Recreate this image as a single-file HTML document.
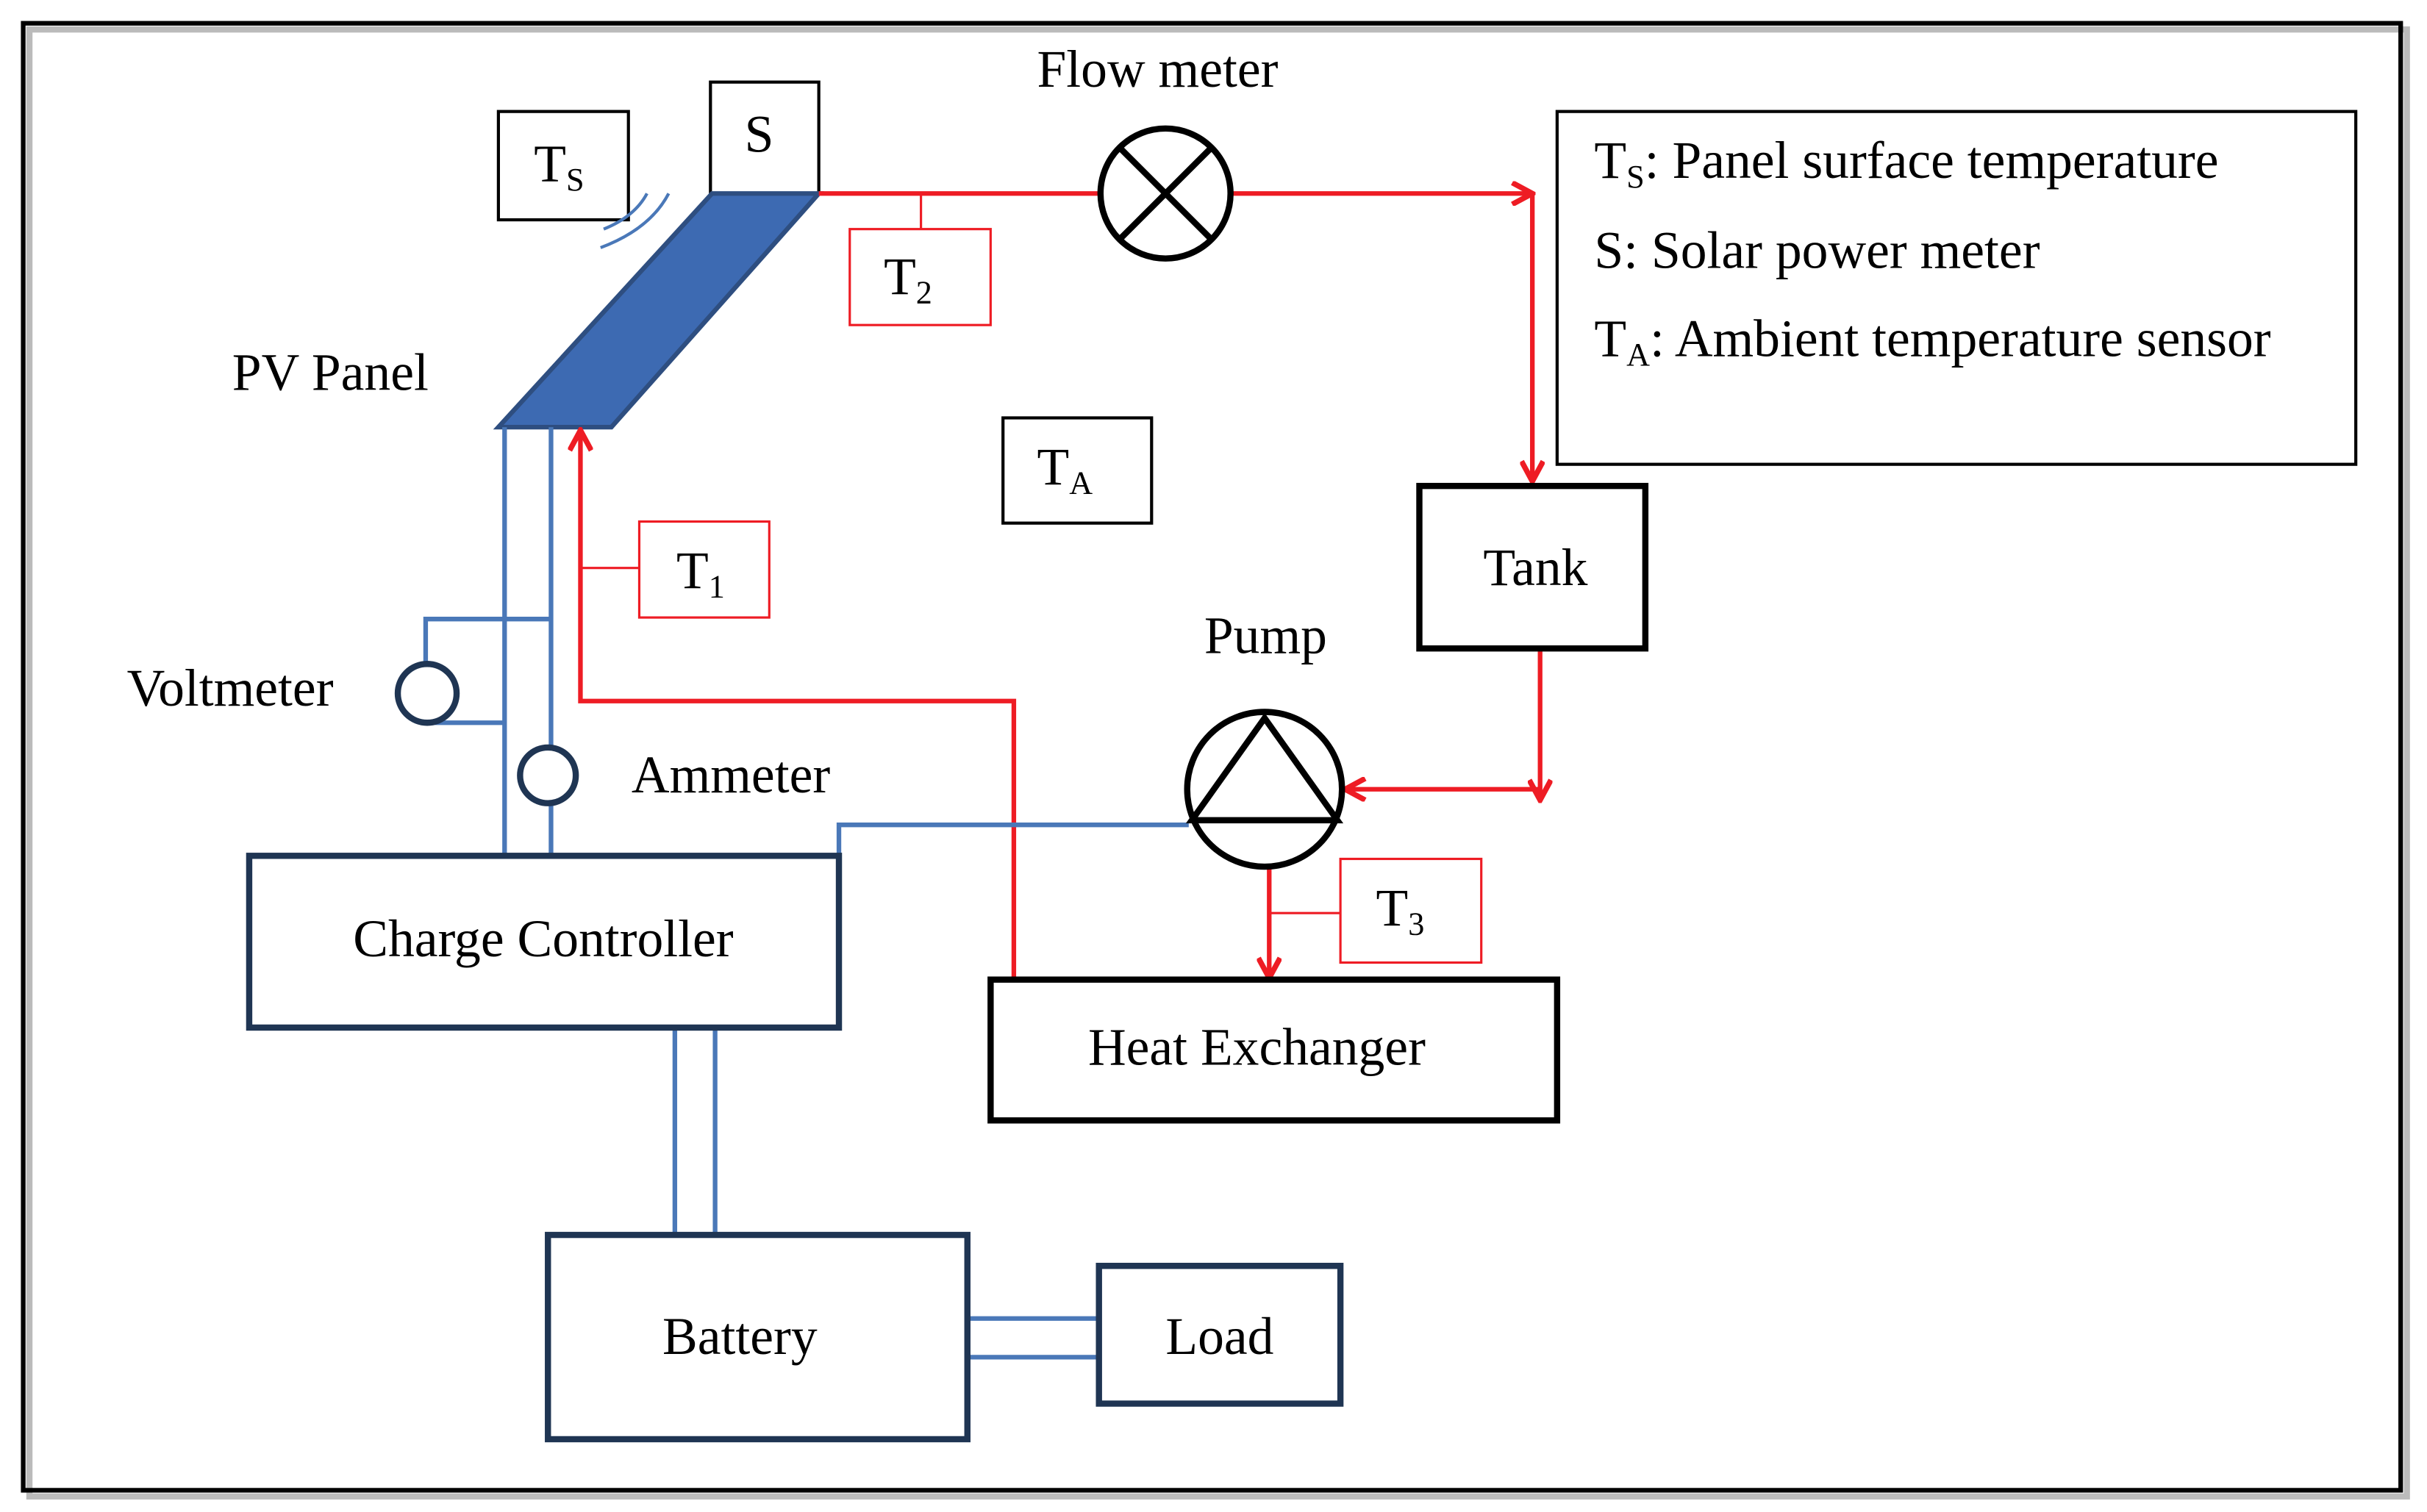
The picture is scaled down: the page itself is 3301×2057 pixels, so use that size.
<!DOCTYPE html>
<html><head><meta charset="utf-8"><style>
html,body{margin:0;padding:0;background:#fff;}
svg{display:block;}
text{font-family:"Liberation Serif",serif;}
</style></head><body>
<svg width="3301" height="2057" viewBox="0 0 1568 977" xmlns="http://www.w3.org/2000/svg">
<defs>
<marker id="ar" markerWidth="16" markerHeight="16" refX="14" refY="8" orient="auto" markerUnits="userSpaceOnUse">
<path d="M1,1 L14,8 L1,15" fill="none" stroke="#ee1c24" stroke-width="3.5"/>
</marker>
</defs>
<rect x="0" y="0" width="1568" height="977" fill="#fff"/>
<rect x="19" y="19" width="1536" height="948" fill="none" stroke="#bbb" stroke-width="4"/>
<rect x="15" y="15" width="1536" height="948" fill="none" stroke="#000" stroke-width="3"/>

<rect x="322" y="72" width="84" height="70" fill="#fff" stroke="#000" stroke-width="2"/>
<text x="345" y="117" font-size="34">T<tspan font-size="21" dy="6">S</tspan></text>
<rect x="459" y="53" width="70" height="72" fill="#fff" stroke="#000" stroke-width="2"/>
<text x="481" y="98" font-size="34">S</text>
<path d="M390,148 Q410,140 418,125 M388,160 Q420,148 432,125" fill="none" stroke="#4a78b8" stroke-width="2"/>
<polygon points="460,125 529,125 395,276 322,276" fill="#3d6ab2" stroke="#2e4e80" stroke-width="3"/>
<text x="150" y="252" font-size="34">PV Panel</text>

<g stroke="#ee1c24" stroke-width="3" fill="none">
<line x1="529" y1="125" x2="990" y2="125" marker-end="url(#ar)"/>
<line x1="595" y1="125" x2="595" y2="148" stroke-width="1.5"/>
<line x1="990" y1="125" x2="990" y2="311" marker-end="url(#ar)"/>
<line x1="995" y1="419" x2="995" y2="517" marker-end="url(#ar)"/>
<line x1="995" y1="510" x2="869" y2="510" marker-end="url(#ar)"/>
<line x1="820" y1="556" x2="820" y2="632" marker-end="url(#ar)"/>
<line x1="820" y1="590" x2="866" y2="590" stroke-width="1.5"/>
<polyline points="655,633 655,453 375,453 375,278" marker-end="url(#ar)"/>
<line x1="375" y1="367" x2="413" y2="367" stroke-width="1.5"/>
</g>
<rect x="549" y="148" width="91" height="62" fill="#fff" stroke="#ee1c24" stroke-width="1.5"/>
<text x="571" y="190" font-size="34">T<tspan font-size="21" dy="6">2</tspan></text>
<rect x="413" y="337" width="84" height="62" fill="#fff" stroke="#ee1c24" stroke-width="1.5"/>
<text x="437" y="380" font-size="34">T<tspan font-size="21" dy="6">1</tspan></text>
<rect x="866" y="555" width="91" height="67" fill="#fff" stroke="#ee1c24" stroke-width="1.5"/>
<text x="889" y="598" font-size="34">T<tspan font-size="21" dy="6">3</tspan></text>

<circle cx="753" cy="125" r="42" fill="#fff" stroke="#000" stroke-width="4"/>
<line x1="723" y1="95" x2="783" y2="155" stroke="#000" stroke-width="4"/>
<line x1="783" y1="95" x2="723" y2="155" stroke="#000" stroke-width="4"/>
<text x="670" y="56" font-size="34">Flow meter</text>

<rect x="1006" y="72" width="516" height="228" fill="#fff" stroke="#000" stroke-width="2"/>
<text x="1030" y="115" font-size="34">T<tspan font-size="21" dy="6">S</tspan><tspan dy="-6">: Panel surface temperature</tspan></text>
<text x="1030" y="173" font-size="34">S: Solar power meter</text>
<text x="1030" y="230" font-size="34">T<tspan font-size="21" dy="6">A</tspan><tspan dy="-6">: Ambient temperature sensor</tspan></text>

<rect x="648" y="270" width="96" height="68" fill="#fff" stroke="#000" stroke-width="2"/>
<text x="670" y="313" font-size="34">T<tspan font-size="21" dy="6">A</tspan></text>

<rect x="917" y="314" width="146" height="105" fill="#fff" stroke="#000" stroke-width="4"/>
<text x="992" y="378" font-size="34" text-anchor="middle">Tank</text>

<g stroke="#4a78b8" stroke-width="3" fill="none">
<line x1="326" y1="276" x2="326" y2="553"/>
<line x1="356" y1="276" x2="356" y2="553"/>
<polyline points="356,400 275,400 275,430"/>
<polyline points="276,467 326,467"/>
<polyline points="768,533 542,533 542,553"/>
<line x1="436" y1="664" x2="436" y2="798"/>
<line x1="462" y1="664" x2="462" y2="798"/>
<line x1="625" y1="852" x2="710" y2="852"/>
<line x1="625" y1="877" x2="710" y2="877"/>
</g>
<circle cx="276" cy="448" r="19" fill="#fff" stroke="#1f3553" stroke-width="4"/>
<circle cx="354" cy="501" r="18" fill="#fff" stroke="#1f3553" stroke-width="4"/>
<text x="82" y="456" font-size="34">Voltmeter</text>
<text x="408" y="512" font-size="34">Ammeter</text>

<circle cx="817" cy="510" r="50" fill="#fff" stroke="#000" stroke-width="4"/>
<polygon points="817,464 770,530 864,530" fill="none" stroke="#000" stroke-width="4"/>
<text x="778" y="422" font-size="34">Pump</text>

<rect x="161" y="553" width="381" height="111" fill="#fff" stroke="#1f3553" stroke-width="4"/>
<text x="351" y="618" font-size="34" text-anchor="middle">Charge Controller</text>
<rect x="640" y="633" width="366" height="91" fill="#fff" stroke="#000" stroke-width="4"/>
<text x="812" y="688" font-size="34" text-anchor="middle">Heat Exchanger</text>
<rect x="354" y="798" width="271" height="132" fill="#fff" stroke="#1f3553" stroke-width="4"/>
<text x="478" y="875" font-size="34" text-anchor="middle">Battery</text>
<rect x="710" y="818" width="156" height="89" fill="#fff" stroke="#1f3553" stroke-width="4"/>
<text x="788" y="875" font-size="34" text-anchor="middle">Load</text>
</svg>
</body></html>
